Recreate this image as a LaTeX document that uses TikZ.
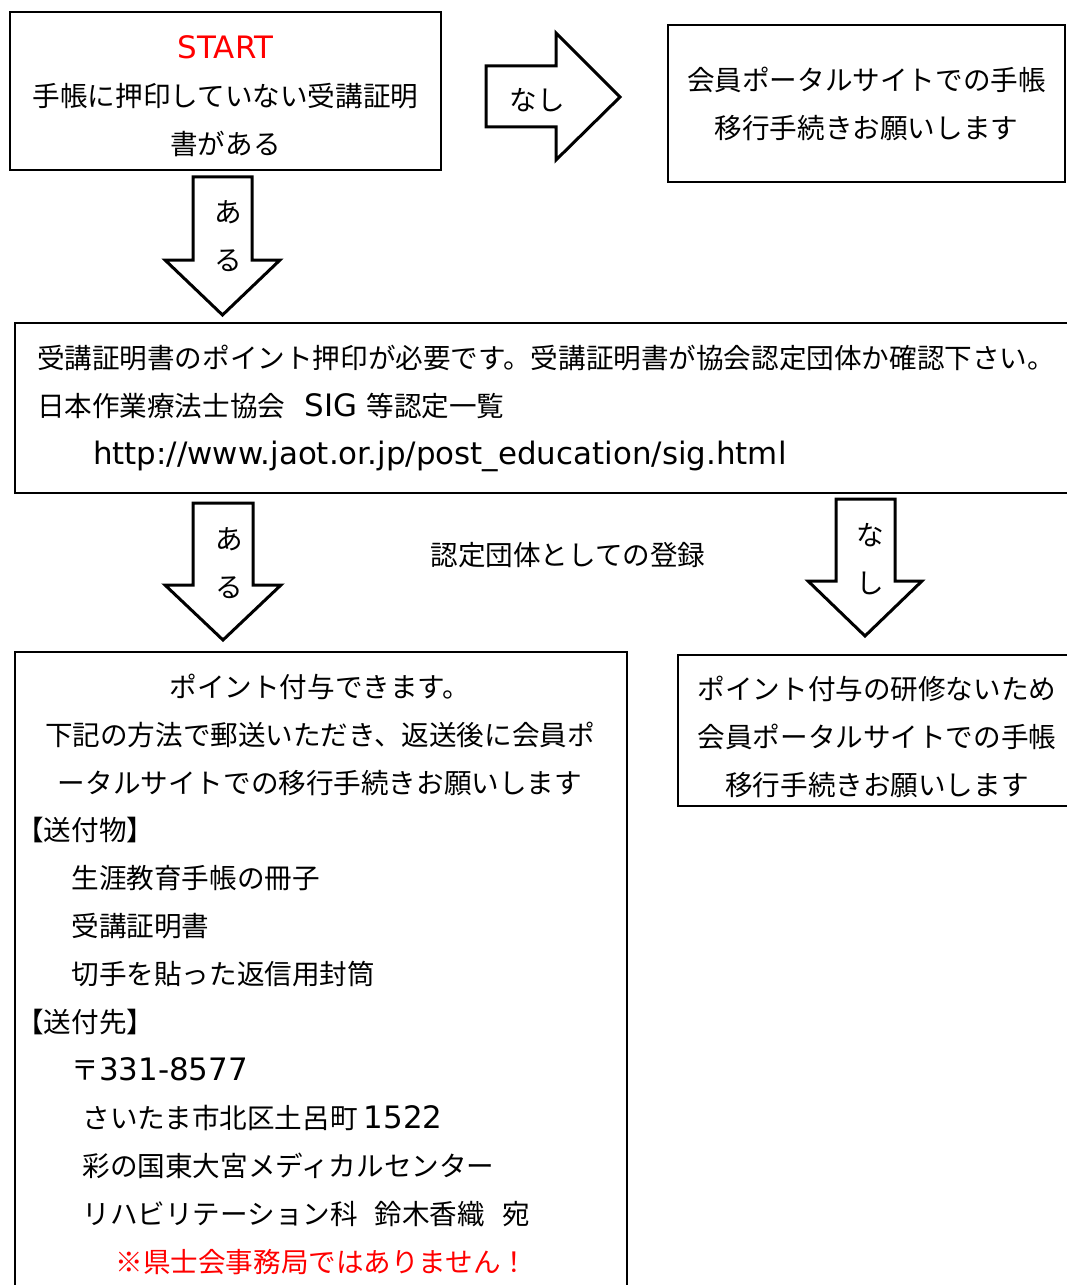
\documentclass[tikz,border=0pt]{standalone}
\usepackage{fontspec}
\setmainfont{Noto Sans CJK JP}
\newfontfamily\latinfont[Scale=1.12]{DejaVu Sans}

\begin{document}
\begin{tikzpicture}[
  x=0.2mm, y=-0.2mm,
  font=\fontsize{15.7pt}{27.3pt}\selectfont,
  % Boxes
  box/.style={rectangle, draw=black, line width=0.4mm, inner sep=0pt, align=center},
  % Block arrows and plain text
  blockArrow/.style={draw=black, fill=white, line width=0.6mm, line join=miter},
  txt/.style={inner sep=0pt, align=center}
  ]

  \useasboundingbox (0,0) rectangle (1067,1285);
  \clip (0,0) rectangle (1067,1285);

  % --- First question ---
  \node[box, minimum width=431*0.2mm, minimum height=158*0.2mm] (start) at (225.5,91) {};
  \node[txt] (startText) at (225.5,96)
  {\textcolor{red}{\latinfont START}\\手帳に押印していない受講証明\\書がある};

  \node[box, minimum width=397*0.2mm, minimum height=157*0.2mm] (portal) at (866.5,103.5)
  {会員ポータルサイトでの手帳\\移行手続きお願いします};

  % "nashi" arrow to the right
  \draw[blockArrow] (486,66) -- (556,66) -- (556,33) -- (620,97) -- (556,160)
    -- (556,127) -- (486,127) -- cycle;
  \node[txt] (nashiRight) at (537,100) {なし};

  % "aru" arrow down
  \draw[blockArrow] (193,177) -- (252,177) -- (252,260) -- (280,260) -- (222.5,315)
    -- (165,260) -- (193,260) -- cycle;
  \node[txt] (aruFirst) at (228,236) {あ\\る};

  % --- Check of the group ---
  \node[box, anchor=north west, align=left, text width=211.2mm, inner xsep=4.4mm,
    minimum height=170*0.2mm] (check) at (14,322)
  {受講証明書のポイント押印が必要です。受講証明書が協会認定団体か確認下さい。\\
   日本作業療法士協会\hspace{0.7em}{\latinfont SIG} 等認定一覧\\
   \hspace*{11.2mm}{\latinfont http://www.jaot.or.jp/post\_education/sig.html}};

  % "aru" and "nashi" arrows down
  \draw[blockArrow] (193,503) -- (253,503) -- (253,585) -- (281,585) -- (223,640)
    -- (165,585) -- (193,585) -- cycle;
  \node[txt] (aruSecond) at (229,563) {あ\\る};

  \draw[blockArrow] (836,499) -- (895,499) -- (895,581) -- (922,581) -- (865,636)
    -- (808,581) -- (836,581) -- cycle;
  \node[txt] (nashiDown) at (870,559) {な\\し};

  \node[txt] (regLabel) at (568,555) {認定団体としての登録};

  % --- Results ---
  \node[box, anchor=north west, minimum width=612*0.2mm, minimum height=660*0.2mm] (point) at (14,651) {};
  \node[txt] (pointHead) at (320,735)
  {ポイント付与できます。\\下記の方法で郵送いただき、返送後に会員ポ\\ータルサイトでの移行手続きお願いします};
  \node[txt, anchor=west, align=left] (pointList) at (16,1022)
  {【送付物】\\
   \hspace*{2em}生涯教育手帳の冊子\\
   \hspace*{2em}受講証明書\\
   \hspace*{2em}切手を貼った返信用封筒\\
   【送付先】\\
   \hspace*{2em}〒{\latinfont 331-8577}\\
   \hspace*{2.4em}さいたま市北区土呂町 {\latinfont 1522}\\
   \hspace*{2.4em}彩の国東大宮メディカルセンター\\
   \hspace*{2.4em}リハビリテーション科\hspace{0.6em}鈴木香織\hspace{0.65em}宛};
  \node[txt, red] (pointNote) at (322,1262) {※県士会事務局ではありません！};

  \node[box, minimum width=398*0.2mm, minimum height=151*0.2mm] (noPoint) at (877,730.5) {};
  \node[txt] (noPointText) at (877,736.5)
  {ポイント付与の研修ないため\\会員ポータルサイトでの手帳\\移行手続きお願いします};

\end{tikzpicture}
\end{document}
